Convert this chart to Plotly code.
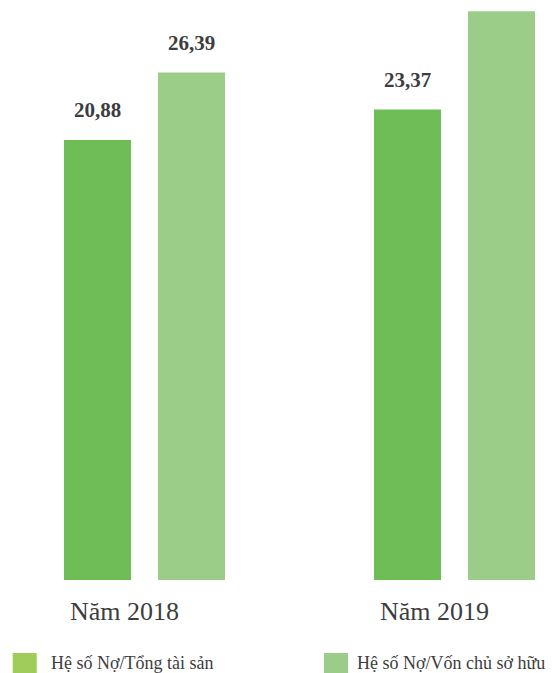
import plotly.graph_objects as go

# ---- data ----
categories = ["Năm 2018", "Năm 2019"]
series_names = ["Hệ số Nợ/Tổng tài sản", "Hệ số Nợ/Vốn chủ sở hữu"]
debt_to_assets = [20.88, 23.37]
debt_to_equity = [26.39, 31.4]          # 2019 value is cut off in the original (estimated)
show_labels = [[True, True], [True, False]]  # [series][category]

# ---- style ----
W, H = 552, 673
MARGIN_B = 93
BAR_BASE = -15.04   # the infographic's bars start below zero
Y_TOP = 32.31
BARGAP = 0.3935
BARGROUPGAP = 0.2872
bar_colors = ["#6fbd57", "#9bcd89"]
legend_colors = ["#a0cd5a", "#9bcd89"]
FONT = "Liberation Serif, Times New Roman, serif"
TEXT = "#3d3d3d"

series_values = [debt_to_assets, debt_to_equity]

fig = go.Figure()
for name, vals, col in zip(series_names, series_values, bar_colors):
    fig.add_trace(go.Bar(
        x=categories, y=[v - BAR_BASE for v in vals], base=BAR_BASE,
        name=name, marker=dict(color=col, line=dict(width=0)),
        hoverinfo="skip", showlegend=False,
    ))

# value labels above bars
slot = (1 - BARGAP) / 2
for s, vals in enumerate(series_values):
    off = (s - 0.5) * slot
    for c, v in enumerate(vals):
        if not show_labels[s][c]:
            continue
        fig.add_annotation(
            x=c + off, y=v, xref="x", yref="y",
            text=f"<b>{v:.2f}</b>".replace(".", ","),
            showarrow=False, yanchor="middle", yshift=30,
            font=dict(family=FONT, size=21, color=TEXT),
        )

# custom legend (squares + text), positioned in pixels
plot_h = H - MARGIN_B
def px_x(p):
    return p / W
def px_y(p):
    return (plot_h - p) / plot_h

legend_items = [(12.7, 36.7, 49), (324, 348, 355)]
for (x0, x1, tx), name, col in zip(legend_items, series_names, legend_colors):
    fig.add_shape(type="rect", xref="paper", yref="paper",
                  x0=px_x(x0), x1=px_x(x1), y0=px_y(653), y1=px_y(674),
                  fillcolor=col, line=dict(width=0), layer="above")
    fig.add_annotation(x=px_x(tx), y=px_y(663), xref="paper", yref="paper",
                       text=name, showarrow=False, xanchor="left", yanchor="middle",
                       font=dict(family=FONT, size=18, color=TEXT))

fig.update_layout(
    width=W, height=H,
    margin=dict(l=0, r=0, t=0, b=MARGIN_B),
    barmode="group", bargap=BARGAP, bargroupgap=BARGROUPGAP,
    plot_bgcolor="white", paper_bgcolor="white",
    showlegend=False,
    xaxis=dict(range=[-0.4661, 1.3145], showgrid=False, zeroline=False,
               showline=False, ticks="", tickfont=dict(family=FONT, size=26, color=TEXT),
               ticklabelshift=-20, ticklabelstandoff=13, fixedrange=True),
    yaxis=dict(range=[BAR_BASE, Y_TOP], visible=False, fixedrange=True),
)

fig.write_html("out.html", config={"displayModeBar": False})

# remove the default page margin so the figure sits at the window's corner
with open("out.html", encoding="utf-8") as f:
    html = f.read()
html = html.replace("<head>", "<head><style>html,body{margin:0;padding:0;overflow:hidden;}</style>", 1)
with open("out.html", "w", encoding="utf-8") as f:
    f.write(html)
